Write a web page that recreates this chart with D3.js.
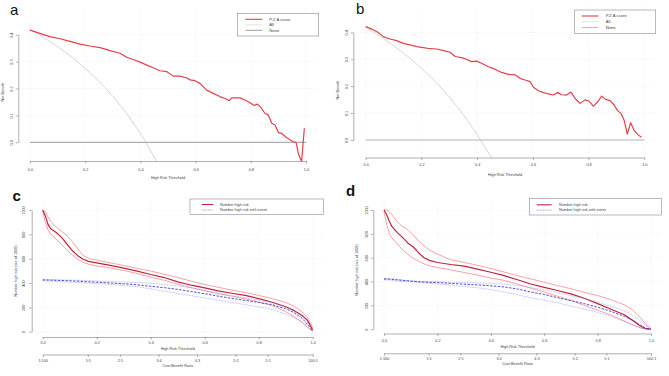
<!DOCTYPE html>
<html><head><meta charset="utf-8">
<script src="https://cdn.jsdelivr.net/npm/d3@7"></script>
<style>body{margin:0;background:#fff}svg{display:block;font-family:Arial,"Liberation Sans",sans-serif}</style>
</head><body><svg id="chart" width="669" height="376"></svg>
<script>
// ---------- Data: decision curves (panels a, b) ----------
const nbTicksX = [0, 0.2, 0.4, 0.6, 0.8, 1.0];
const nbTicksY = [0, 0.1, 0.2, 0.3, 0.4];
const nbLegend = ["P.Z.A score", "All", "None"];

const thresholdA = [0,0.036,0.072,0.109,0.145,0.181,0.217,0.254,0.29,0.326,0.35,0.374,0.399,0.423,0.447,0.471,0.495,0.519,0.543,0.568,0.58,0.598,0.616,0.64,0.664,0.688,0.707,0.722,0.731,0.761,0.779,0.797,0.812,0.824,0.836,0.851,0.863,0.876,0.888,0.9,0.912,0.928,0.942,0.954,0.964,0.972,0.984,0.994];
const scoreA = [0.417,0.405,0.393,0.385,0.375,0.365,0.358,0.352,0.341,0.331,0.316,0.308,0.298,0.287,0.277,0.266,0.263,0.246,0.246,0.239,0.232,0.229,0.219,0.194,0.182,0.17,0.163,0.155,0.165,0.165,0.157,0.147,0.137,0.142,0.13,0.108,0.102,0.071,0.064,0.036,0.033,0.019,0.009,0.002,0.0,-0.041,-0.072,0.052];

const thresholdB = [0,0.022,0.045,0.063,0.087,0.111,0.135,0.159,0.183,0.207,0.231,0.255,0.279,0.303,0.321,0.344,0.362,0.38,0.398,0.416,0.44,0.464,0.488,0.512,0.536,0.554,0.572,0.59,0.602,0.62,0.638,0.656,0.673,0.689,0.703,0.721,0.737,0.751,0.769,0.787,0.801,0.817,0.833,0.847,0.861,0.877,0.892,0.904,0.916,0.928,0.939,0.951,0.963,0.978,0.99];
const scoreB = [0.421,0.412,0.399,0.384,0.375,0.369,0.359,0.353,0.347,0.343,0.339,0.338,0.332,0.326,0.31,0.306,0.3,0.291,0.293,0.285,0.272,0.263,0.251,0.244,0.242,0.229,0.223,0.217,0.196,0.183,0.176,0.171,0.167,0.176,0.168,0.167,0.178,0.155,0.136,0.149,0.145,0.126,0.142,0.163,0.151,0.146,0.13,0.109,0.099,0.072,0.022,0.064,0.037,0.019,0.01];

const allThreshold = [0, 0.05, 0.1, 0.15, 0.2, 0.25, 0.3, 0.35, 0.4, 0.42, 0.45, 0.47];
const allBenefitA = [0.42, 0.389, 0.356, 0.318, 0.275, 0.227, 0.171, 0.108, 0.033, 0.0, -0.055, -0.094];
const allBenefitB = [0.42, 0.386, 0.351, 0.311, 0.267, 0.217, 0.16, 0.095, 0.02, -0.014, -0.062, -0.1];

// ---------- Data: clinical impact curves (panels c, d) ----------
const cicTicksX = [0, 0.2, 0.4, 0.6, 0.8, 1.0];
const cicTicksY = [0, 200, 400, 600, 800, 1000];
const costBenefitLabels = ["1:100","1:5","2:5","3:4","4:3","5:2","5:1","100:1"];
const costBenefitPos = [0, 0.167, 0.286, 0.429, 0.571, 0.714, 0.833, 1.0];
const cicLegend = ["Number high risk", "Number high risk with event"];

const cicThreshold = [0,0.01,0.02,0.03,0.05,0.07,0.09,0.11,0.13,0.15,0.17,0.2,0.25,0.3,0.35,0.4,0.45,0.5,0.55,0.6,0.65,0.7,0.75,0.8,0.85,0.9,0.93,0.96,0.98,1.0];

const highRiskC   = [1000,950,880,845,815,775,720,665,625,595,578,565,545,522,498,470,445,410,382,360,336,316,298,272,242,205,175,135,95,14];
const highRiskHiC = [1000,985,940,905,860,825,790,740,680,625,603,588,566,544,520,498,472,445,415,388,365,342,322,298,272,240,210,165,120,30];
const highRiskLoC = [985,900,835,800,760,715,670,630,595,570,555,540,524,503,478,448,422,390,362,336,312,292,270,245,215,165,125,80,40,4];
const eventC      = [425,425,424,424,422,421,419,417,415,412,410,407,400,394,385,373,362,348,330,312,292,274,257,240,222,188,158,112,62,5];
const eventHiC    = [428,428,428,427,427,426,425,424,423,421,420,416,412,408,403,398,388,376,360,340,317,296,279,262,237,200,170,125,80,10];
const eventLoC    = [418,417,416,415,413,410,408,406,404,401,399,395,388,380,370,352,333,315,296,278,258,240,222,205,182,145,118,75,35,2];

const highRiskD   = [1000,960,905,860,810,768,722,690,640,600,578,560,543,530,505,478,450,415,380,352,325,297,260,215,168,122,75,28,5,2];
const highRiskHiD = [1000,1000,985,960,900,860,835,790,740,700,665,630,583,560,537,510,480,450,422,395,366,340,310,283,248,205,165,100,45,5];
const highRiskLoD = [985,880,800,765,715,665,628,595,570,548,533,518,498,476,455,430,410,378,345,312,277,243,200,160,120,70,40,12,3,0];
const eventD      = [422,421,420,419,414,410,406,402,399,396,394,392,385,378,372,365,355,338,312,292,265,240,215,185,150,108,80,35,10,2];
const eventHiD    = [427,426,424,422,418,413,408,404,402,401,400,398,395,392,389,385,378,368,350,330,308,282,258,228,192,155,120,70,30,5];
const eventLoD    = [416,414,412,410,405,401,398,396,393,389,385,380,370,360,348,334,312,290,265,245,222,195,170,142,108,65,38,12,3,0];

// ---------- Drawing ----------
const svg = d3.select("#chart");
svg.append("rect").attr("width", 669).attr("height", 376).attr("fill", "#fff");
const defs = svg.append("defs");
const FS = 3.8, AXIS = "#7a7a7a", TXT = "#444", GRID = "#ececec";

function styleAxis(sel) {
  sel.select(".domain").attr("stroke", AXIS).attr("stroke-width", 0.6);
  sel.selectAll(".tick line").attr("stroke", AXIS).attr("stroke-width", 0.6);
  sel.selectAll(".tick text").attr("font-size", FS).attr("fill", TXT).attr("font-family", "Arial, Liberation Sans, sans-serif");
}
function bottomAxis(g, x, yPos, ticks, fmt, labelOff) {
  const a = g.append("g").attr("transform", `translate(0,${yPos})`)
    .call(d3.axisBottom(x).tickValues(ticks).tickFormat(fmt).tickSize(2.5).tickSizeOuter(0));
  styleAxis(a);
  a.selectAll(".tick text").attr("y", labelOff).attr("dy", "0.35em");
  return a;
}
function leftAxis(g, y, xPos, ticks, fmt, labelOff) {
  const a = g.append("g").attr("transform", `translate(${xPos},0)`)
    .call(d3.axisLeft(y).tickValues(ticks).tickFormat(fmt).tickSize(2.5).tickSizeOuter(0));
  styleAxis(a);
  a.selectAll(".tick text").attr("x", null).attr("dy", "0.35em").attr("text-anchor", "middle")
    .attr("transform", `translate(${-labelOff},0) rotate(-90)`);
  return a;
}
function rotLabel(g, x, y, t) {
  g.append("text").attr("transform", `translate(${x},${y}) rotate(-90)`).attr("dy", "0.35em")
    .attr("text-anchor", "middle").attr("font-size", FS).attr("fill", TXT).text(t);
}
function hLabel(g, x, y, t) {
  g.append("text").attr("x", x).attr("y", y).attr("dy", "0.35em")
    .attr("text-anchor", "middle").attr("font-size", FS).attr("fill", TXT).text(t);
}

function nbPanel(p) {
  const g = svg.append("g");
  const x = d3.scaleLinear().domain([0, 1]).range([p.x0, p.x1]);
  const y = d3.scaleLinear().domain([0, 0.4]).range([p.y0, p.y4]);
  defs.append("clipPath").attr("id", "clip" + p.letter).append("rect")
    .attr("x", p.gridLeft).attr("y", p.gridTop).attr("width", p.gridRight - p.gridLeft).attr("height", p.axisY - p.gridTop + 0.3);
  g.selectAll(null).data(nbTicksX).join("line")
    .attr("x1", d => x(d)).attr("x2", d => x(d)).attr("y1", p.gridTop).attr("y2", p.axisY - 1)
    .attr("stroke", GRID).attr("stroke-width", 0.6).attr("stroke-dasharray", "1,1");
  g.selectAll(null).data(nbTicksY).join("line")
    .attr("x1", p.gridLeft).attr("x2", p.gridRight).attr("y1", d => y(d)).attr("y2", d => y(d))
    .attr("stroke", GRID).attr("stroke-width", 0.6).attr("stroke-dasharray", "1,1");
  const line = d3.line().x(d => x(d[0])).y(d => y(d[1]));
  const plot = g.append("g").attr("clip-path", `url(#clip${p.letter})`);
  plot.append("path").datum(d3.zip(allThreshold, p.all)).attr("d", line)
    .attr("fill", "none").attr("stroke", "#d6d6d6").attr("stroke-width", 1);
  plot.append("line").attr("x1", x(0)).attr("x2", x(1)).attr("y1", y(0)).attr("y2", y(0))
    .attr("stroke", p.noneColor).attr("stroke-width", 0.8);
  plot.append("path").datum(d3.zip(p.tx, p.ty)).attr("d", line)
    .attr("fill", "none").attr("stroke", "#e2404a").attr("stroke-width", 1.2).attr("stroke-linejoin", "round");
  bottomAxis(g, x, p.axisY, nbTicksX, d3.format(".1f"), p.xTickOff);
  leftAxis(g, y, p.axisX, nbTicksY, d3.format(".1f"), p.yTickOff);
  hLabel(g, (p.x0 + p.x1) / 2, p.xTitleY, "High Risk Threshold");
  rotLabel(g, p.yTitleX, p.yTitleY, "Net Benefit");
  const L = p.legend;
  g.append("rect").attr("x", L.x).attr("y", L.y).attr("width", L.w).attr("height", L.h)
    .attr("fill", "#fff").attr("stroke", "#8a8a8a").attr("stroke-width", 0.6);
  const colors = ["#e2404a", "#e6d6d6", p.noneColor];
  nbLegend.forEach((t, i) => {
    const yy = L.y + L.rows[i];
    g.append("line").attr("x1", L.x + L.l0).attr("x2", L.x + L.l1).attr("y1", yy).attr("y2", yy)
      .attr("stroke", colors[i]).attr("stroke-width", i === 0 ? 1.1 : 0.8);
    g.append("text").attr("x", L.x + L.tx).attr("y", yy).attr("dy", "0.35em")
      .attr("font-size", 4.2).attr("fill", TXT).text(t);
  });
  g.append("text").attr("x", p.letterX).attr("y", p.letterY).attr("font-size", 15).attr("fill", "#111").text(p.letter);
}

function cicPanel(p) {
  const g = svg.append("g");
  const x = d3.scaleLinear().domain([0, 1]).range([p.x0, p.x1]);
  const y = d3.scaleLinear().domain([0, 1000]).range([p.y0, p.y1000]);
  g.selectAll(null).data(cicTicksX).join("line")
    .attr("x1", d => x(d)).attr("x2", d => x(d)).attr("y1", p.gridTop).attr("y2", p.axisY - 1)
    .attr("stroke", GRID).attr("stroke-width", 0.6).attr("stroke-dasharray", "1,1");
  g.selectAll(null).data(cicTicksY).join("line")
    .attr("x1", p.gridLeft).attr("x2", p.gridRight).attr("y1", d => y(d)).attr("y2", d => y(d))
    .attr("stroke", GRID).attr("stroke-width", 0.6).attr("stroke-dasharray", "1,1");
  const line = d3.line().x(d => x(d[0])).y(d => y(d[1]));
  const series = [
    [p.hrHi, "#f27a80", 0.7, null],
    [p.hrLo, "#f27a80", 0.7, null],
    [p.hr, "#bf2438", 1.2, null],
    [p.evHi, "#8c8cf2", 0.7, "0.8,0.8"],
    [p.evLo, "#8c8cf2", 0.7, "0.8,0.8"],
    [p.ev, "#3a3ad0", 0.9, "2.4,1.4"]
  ];
  series.forEach(([vals, c, w, dash]) => {
    g.append("path").datum(d3.zip(cicThreshold, vals)).attr("d", line)
      .attr("fill", "none").attr("stroke", c).attr("stroke-width", w)
      .attr("stroke-dasharray", dash).attr("stroke-linejoin", "round");
  });
  bottomAxis(g, x, p.axisY, cicTicksX, d3.format(".1f"), p.xTickOff);
  hLabel(g, (p.x0 + p.x1) / 2, p.xTitleY, "High Risk Threshold");
  bottomAxis(g, x, p.axis2Y, costBenefitPos, (d, i) => costBenefitLabels[i], p.xTickOff2);
  hLabel(g, (p.x0 + p.x1) / 2, p.x2TitleY, "Cost:Benefit Ratio");
  leftAxis(g, y, p.axisX, cicTicksY, d3.format("d"), p.yTickOff);
  rotLabel(g, p.yTitleX, p.yTitleY, "Number high risk (out of 1000)");
  const L = p.legend;
  g.append("rect").attr("x", L.x).attr("y", L.y).attr("width", L.w).attr("height", L.h)
    .attr("fill", "#fff").attr("stroke", "#8a8a8a").attr("stroke-width", 0.6);
  const ls = [["#bf2438", 1.1, null], ["#6a6ae0", 0.8, "0.8,0.8"]];
  cicLegend.forEach((t, i) => {
    const yy = L.y + L.rows[i];
    g.append("line").attr("x1", L.x + L.l0).attr("x2", L.x + L.l1).attr("y1", yy).attr("y2", yy)
      .attr("stroke", ls[i][0]).attr("stroke-width", ls[i][1]).attr("stroke-dasharray", ls[i][2]);
    g.append("text").attr("x", L.x + L.tx).attr("y", yy).attr("dy", "0.35em")
      .attr("font-size", FS).attr("fill", TXT).text(t);
  });
  g.append("text").attr("x", p.letterX).attr("y", p.letterY).attr("font-size", 15)
    .attr("font-weight", "bold").attr("fill", "#111").text(p.letter);
}

nbPanel({letter: "a", tx: thresholdA, ty: scoreA, all: allBenefitA, noneColor: "#858585",
  x0: 30, x1: 306, y0: 142.3, y4: 34.7, axisY: 161, axisX: 18.3,
  gridTop: 8, gridLeft: 19, gridRight: 318, xTickOff: 8.3, yTickOff: 6.3,
  xTitleY: 177.7, yTitleX: 2.8, yTitleY: 92,
  legend: {x: 237.3, y: 13.3, w: 81.4, h: 22.7, rows: [6, 11.5, 17], l0: 8, l1: 25, tx: 32},
  letterX: 10, letterY: 15});

nbPanel({letter: "b", tx: thresholdB, ty: scoreB, all: allBenefitB, noneColor: "#a6a6a6",
  x0: 365.7, x1: 644.3, y0: 140, y4: 32.3, axisY: 157.5, axisX: 353.3,
  gridTop: 6, gridLeft: 354, gridRight: 655, xTickOff: 7.5, yTickOff: 6.5,
  xTitleY: 175, yTitleX: 337.8, yTitleY: 90,
  legend: {x: 574.3, y: 10, w: 81.4, h: 23.3, rows: [6, 11.7, 17.6], l0: 7.4, l1: 24, tx: 31.4},
  letterX: 356, letterY: 13.5});

cicPanel({letter: "c", hr: highRiskC, hrHi: highRiskHiC, hrLo: highRiskLoC, ev: eventC, evHi: eventHiC, evLo: eventLoC,
  x0: 42.7, x1: 312.7, y0: 331.7, y1000: 210, axisY: 337, axis2Y: 354.5, axisX: 31.7,
  gridTop: 200, gridLeft: 32, gridRight: 323, xTickOff: 6, xTickOff2: 6.5, yTickOff: 8.5,
  xTitleY: 348.5, x2TitleY: 366, yTitleX: 16, yTitleY: 271,
  legend: {x: 190, y: 199, w: 133.3, h: 15.3, rows: [5.5, 11], l0: 11.7, l1: 23.3, tx: 30},
  letterX: 12.5, letterY: 201});

cicPanel({letter: "d", hr: highRiskD, hrHi: highRiskHiD, hrLo: highRiskLoD, ev: eventD, evHi: eventHiD, evLo: eventLoD,
  x0: 384, x1: 651, y0: 329.3, y1000: 210, axisY: 333.5, axis2Y: 353.3, axisX: 373.3,
  gridTop: 200, gridLeft: 374, gridRight: 661, xTickOff: 7.5, xTickOff2: 5, yTickOff: 6.6,
  xTitleY: 346.7, x2TitleY: 363.5, yTitleX: 356.7, yTitleY: 270,
  legend: {x: 529.3, y: 198.3, w: 132.4, h: 16.7, rows: [6.5, 11.8], l0: 7.4, l1: 22.4, tx: 29.7},
  letterX: 346, letterY: 196});
</script>
</body></html>
